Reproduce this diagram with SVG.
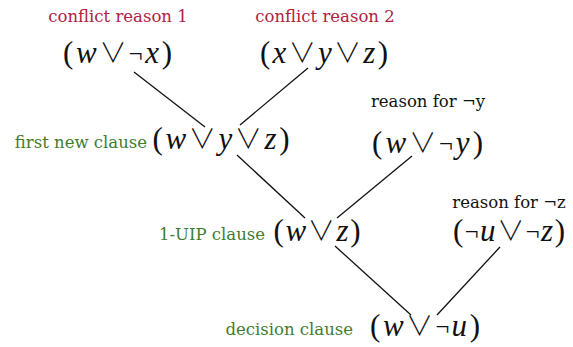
<svg xmlns="http://www.w3.org/2000/svg" width="573" height="347" viewBox="0 0 573 347">
<style>
.lbl{font-family:"DejaVu Serif","Liberation Serif",serif;font-size:16.5px}
.red{fill:#b0223f}
.grn{fill:#3f7c30}
.blk{fill:#111}
.m{font-family:"Liberation Serif","DejaVu Serif",serif;font-size:31px;fill:#111;text-anchor:middle}
.v{font-style:italic}
.o{font-family:"Noto Sans CJK JP","DejaVu Sans",sans-serif;font-weight:300;font-size:27px}
.n{font-family:"Noto Sans CJK JP","DejaVu Sans",sans-serif;font-weight:300;font-size:25px}
.c{stroke:#111;stroke-width:1.3;fill:none}
</style>
<rect width="573" height="347" fill="#fff"/>
<g id="connectors">
<line class="c" x1="134" y1="72" x2="205" y2="127"/>
<line class="c" x1="308" y1="68" x2="240" y2="125"/>
<line class="c" x1="237" y1="155" x2="305" y2="218"/>
<line class="c" x1="412" y1="156" x2="337" y2="218"/>
<line class="c" x1="335" y1="246" x2="411" y2="315"/>
<line class="c" x1="500" y1="247" x2="437" y2="315"/>
</g>
<g id="conflict1">
<text class="lbl red" x="118" y="22" text-anchor="middle">conflict reason 1</text>
<text class="m" x="117.5" y="63" textLength="109" lengthAdjust="spacing">(<tspan class="v">w</tspan><tspan class="o">∨</tspan><tspan class="n">¬</tspan><tspan class="v">x</tspan>)</text>
</g>
<g id="conflict2">
<text class="lbl red" x="325" y="22" text-anchor="middle">conflict reason 2</text>
<text class="m" x="324" y="63" textLength="128" lengthAdjust="spacing">(<tspan class="v">x</tspan><tspan class="o">∨</tspan><tspan class="v">y</tspan><tspan class="o">∨</tspan><tspan class="v">z</tspan>)</text>
</g>
<g id="reason-y">
<text class="lbl blk" x="428" y="107" text-anchor="middle">reason for ¬y</text>
<text class="m" x="427.5" y="153" textLength="111" lengthAdjust="spacing">(<tspan class="v">w</tspan><tspan class="o">∨</tspan><tspan class="n">¬</tspan><tspan class="v">y</tspan>)</text>
</g>
<g id="first-new">
<text class="lbl grn" x="147" y="148" text-anchor="end">first new clause</text>
<text class="m" x="221" y="149" textLength="137" lengthAdjust="spacing">(<tspan class="v">w</tspan><tspan class="o">∨</tspan><tspan class="v">y</tspan><tspan class="o">∨</tspan><tspan class="v">z</tspan>)</text>
</g>
<g id="uip">
<text class="lbl grn" x="265" y="240" text-anchor="end">1-UIP clause</text>
<text class="m" x="317" y="241" textLength="87" lengthAdjust="spacing">(<tspan class="v">w</tspan><tspan class="o">∨</tspan><tspan class="v">z</tspan>)</text>
</g>
<g id="reason-z">
<text class="lbl blk" x="509" y="208" text-anchor="middle">reason for ¬z</text>
<text class="m" x="509" y="241" textLength="112" lengthAdjust="spacing">(<tspan class="n">¬</tspan><tspan class="v">u</tspan><tspan class="o">∨</tspan><tspan class="n">¬</tspan><tspan class="v">z</tspan>)</text>
</g>
<g id="decision">
<text class="lbl grn" x="353" y="335" text-anchor="end">decision clause</text>
<text class="m" x="425" y="336" textLength="110" lengthAdjust="spacing">(<tspan class="v">w</tspan><tspan class="o">∨</tspan><tspan class="n">¬</tspan><tspan class="v">u</tspan>)</text>
</g>
</svg>
